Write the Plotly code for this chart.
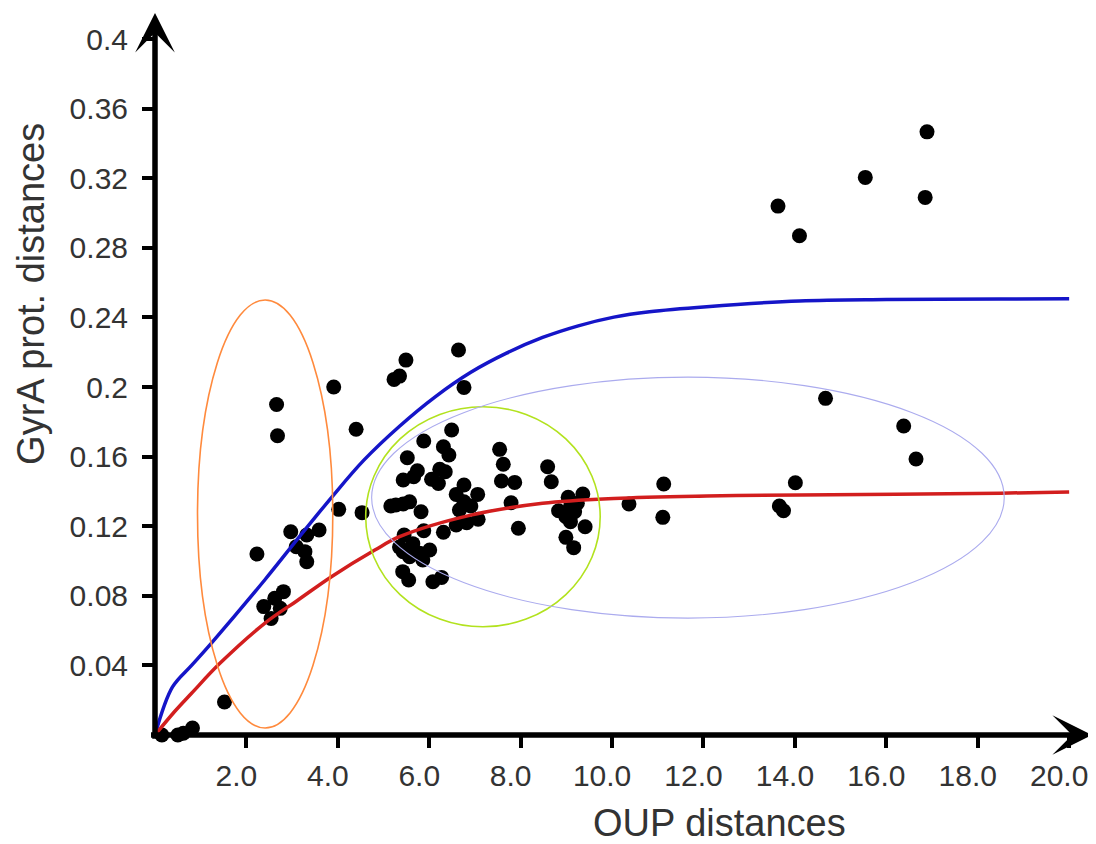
import plotly.graph_objects as go

# ---- data ----
oup_x = [0.15, 0.5, 0.62, 0.82, 1.52,
         2.66, 2.68, 3.91, 4.40, 4.02, 4.53,
         2.23, 2.97, 3.32, 3.59, 3.09, 3.28, 3.32,
         2.38, 2.62, 2.81, 2.74, 2.54,
         5.49, 5.23, 5.35, 6.64, 6.76, 6.49, 5.88, 6.31, 6.43, 5.52,
         5.74, 5.66, 5.43, 6.23, 6.35, 6.05, 6.20,
         7.54, 7.62, 7.58, 7.87, 8.59, 8.67, 6.76, 6.59, 7.06, 6.76, 6.91, 7.79,
         5.27, 5.57, 5.16, 5.43, 5.82, 6.66, 7.07, 6.59, 6.82, 5.88, 6.31, 5.45, 7.95,
         9.04, 9.36, 8.83, 9.09, 9.24, 8.99, 9.18, 9.09, 9.41, 8.99, 9.16,
         10.37, 11.13, 11.11,
         5.35, 5.64, 5.43, 5.79, 6.01, 5.57, 5.86, 5.42, 5.55, 6.08, 6.27,
         13.63, 14.10, 15.54, 16.89, 16.85, 14.67, 16.38, 16.65, 14.01, 13.66, 13.75]
gyra_y = [0.0, 0.0, 0.001, 0.004, 0.019,
          0.190, 0.172, 0.200, 0.1757, 0.1297, 0.1278,
          0.104, 0.1168, 0.115, 0.1178, 0.1082, 0.1054, 0.0996,
          0.0738, 0.0786, 0.0824, 0.0728, 0.067,
          0.2155, 0.2044, 0.2063, 0.2213, 0.1998, 0.1753, 0.169, 0.1657, 0.1609, 0.1594,
          0.1519, 0.1484, 0.1466, 0.1527, 0.1513, 0.147, 0.1446,
          0.1642, 0.1556, 0.146, 0.1452, 0.1542, 0.1456, 0.1437, 0.1383, 0.1383, 0.134, 0.1316, 0.1335,
          0.1322, 0.134, 0.1316, 0.1328, 0.1283, 0.1293, 0.124, 0.1207, 0.122, 0.1174, 0.1165, 0.1149, 0.1188,
          0.1366, 0.1385, 0.1289, 0.1312, 0.1332, 0.1255, 0.1283, 0.1226, 0.1197, 0.1136, 0.1077,
          0.1328, 0.1443, 0.1251,
          0.108, 0.110, 0.1054, 0.1044, 0.1063, 0.1025, 0.1006, 0.0939, 0.0891, 0.0881, 0.0906,
          0.304, 0.287, 0.3205, 0.3467, 0.309, 0.1935, 0.1776, 0.1586, 0.145, 0.1316, 0.1289]

blue_x = [0.0, 0.38, 0.80, 1.23, 2.40, 3.13, 3.86, 4.57, 5.35, 6.13, 6.91, 7.69, 8.48,
          9.26, 10.04, 10.82, 12.07, 14.1, 16.0, 18.5, 20.0]
blue_y = [0.0, 0.0275, 0.0400, 0.0527, 0.0891, 0.113, 0.1365, 0.158, 0.1775, 0.1944, 0.2085, 0.2195, 0.2285,
          0.2352, 0.2402, 0.2433, 0.2462, 0.2495, 0.2503, 0.2506, 0.2508]

red_x = [0.0, 0.43, 0.80, 1.42, 2.40, 3.13, 3.86, 4.81, 5.35, 6.91, 8.48, 10.04, 12.07, 14.1, 18.5, 20.0]
red_y = [0.0, 0.0135, 0.024, 0.0412, 0.0642, 0.0776, 0.091, 0.1063, 0.114, 0.1264, 0.1332, 0.136,
         0.1374, 0.138, 0.139, 0.1397]

x_ticks = [2, 4, 6, 8, 10, 12, 14, 16, 18, 20]
x_tick_labels = ["2.0", "4.0", "6.0", "8.0", "10.0", "12.0", "14.0", "16.0", "18.0", "20.0"]
y_ticks = [0.04, 0.08, 0.12, 0.16, 0.2, 0.24, 0.28, 0.32, 0.36, 0.4]
y_tick_labels = ["0.04", "0.08", "0.12", "0.16", "0.2", "0.24", "0.28", "0.32", "0.36", "0.4"]

# ellipses (x0, x1, y0, y1) in data units
ellipse_orange = (0.93, 3.89, 0.004, 0.250)
ellipse_green = (4.61, 9.74, 0.0622, 0.1887)
ellipse_purple = (4.74, 18.58, 0.0672, 0.2057)

X_MAX, Y_MAX = 20.5, 0.415
FONT = "Liberation Sans, Arial, sans-serif"
TXT = "#333333"

fig = go.Figure()
fig.add_trace(go.Scatter(x=oup_x, y=gyra_y, mode="markers", cliponaxis=False,
                         marker=dict(size=15, color="black"), showlegend=False))
fig.add_trace(go.Scatter(x=blue_x, y=blue_y, mode="lines", cliponaxis=False,
                         line=dict(color="#1515C8", width=3.5, shape="spline", smoothing=1.0),
                         showlegend=False))
fig.add_trace(go.Scatter(x=red_x, y=red_y, mode="lines", cliponaxis=False,
                         line=dict(color="#D21E1E", width=3.5, shape="spline", smoothing=1.0),
                         showlegend=False))

for (x0, x1, y0, y1), col, w in [(ellipse_orange, "#FF8A3D", 1.6),
                                 (ellipse_green, "#B2E21E", 1.6),
                                 (ellipse_purple, "#ABABEE", 1.1)]:
    fig.add_shape(type="circle", xref="x", yref="y", x0=x0, x1=x1, y0=y0, y1=y1,
                  line=dict(color=col, width=w), layer="above")

# axis arrows
fig.add_annotation(x=X_MAX, y=0, ax=-0.12, ay=0, xref="x", yref="y", axref="x", ayref="y",
                   showarrow=True, arrowhead=3, arrowsize=1.2, arrowwidth=5.5, arrowcolor="black", text="")
fig.add_annotation(x=0, y=Y_MAX, ax=0, ay=-0.003, xref="x", yref="y", axref="x", ayref="y",
                   showarrow=True, arrowhead=3, arrowsize=1.2, arrowwidth=5.5, arrowcolor="black", text="")

# axis titles
fig.add_annotation(text="OUP distances", xref="paper", yref="paper", x=0.6025, y=-0.1219,
                   xanchor="center", yanchor="middle", showarrow=False,
                   font=dict(family=FONT, size=38, color=TXT))
fig.add_annotation(text="GyrA prot. distances", xref="paper", yref="paper", x=-0.1323, y=0.611,
                   xanchor="center", yanchor="middle", showarrow=False, textangle=-90,
                   font=dict(family=FONT, size=38, color=TXT))

fig.update_xaxes(range=[0, X_MAX], showgrid=False, zeroline=False, showline=False,
                 tickmode="array", tickvals=x_ticks, ticktext=x_tick_labels,
                 ticks="outside", ticklen=12, tickwidth=4, tickcolor="black",
                 ticklabelstandoff=2, ticklabelshift=-10,
                 tickfont=dict(family=FONT, size=30, color=TXT))
fig.update_yaxes(range=[0, Y_MAX], showgrid=False, zeroline=False, showline=False,
                 tickmode="array", tickvals=y_ticks, ticktext=y_tick_labels,
                 ticks="outside", ticklen=12, tickwidth=4, tickcolor="black",
                 ticklabelstandoff=8,
                 tickfont=dict(family=FONT, size=30, color=TXT))

# the page body adds an 8 px margin, so the figure is 8 px smaller than the window
fig.update_layout(width=1088, height=836, margin=dict(l=147, r=4, t=5, b=109),
                  paper_bgcolor="white", plot_bgcolor="white", showlegend=False)

fig.write_html("out.html")
